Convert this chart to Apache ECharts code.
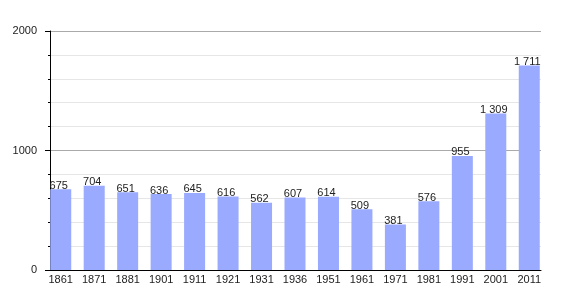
<!DOCTYPE html>
<html><head><meta charset="utf-8">
<script src="https://cdn.jsdelivr.net/npm/echarts@6/dist/echarts.min.js"></script>
<style>html,body{margin:0;padding:0;background:#fff}#c{width:570px;height:300px}</style>
</head><body><div id="c"></div>
<script>
var years = ['1861','1871','1881','1901','1911','1921','1931','1936','1951','1961','1971','1981','1991','2001','2011'];
var population = [675,704,651,636,645,616,562,607,614,509,381,576,955,1309,1711];
var yTicks = [0,1000,2000];

function fmt(v){ return String(v).replace(/\B(?=(\d{3})+(?!\d))/g,' '); }
var FONT = 'Liberation Sans';
var chart = echarts.init(document.getElementById('c'));
chart.setOption({
  animation:false,
  grid:[
    {left:44, right:24, top:31, bottom:30},
    {left:50, right:29, top:31, bottom:30}
  ],
  xAxis:[
    {type:'category', gridIndex:0, data:years, axisLine:{show:false}, axisTick:{show:false},
     axisLabel:{margin:4, fontFamily:FONT, fontSize:11, color:'#222'}},
    {type:'value', gridIndex:1, min:0, max:1, axisLine:{show:true, lineStyle:{color:'#000', width:1}},
     axisTick:{show:false}, axisLabel:{show:false}, splitLine:{show:false}}
  ],
  yAxis:[
    {type:'value', gridIndex:0, min:yTicks[0], max:yTicks[2], show:false},
    {type:'value', gridIndex:1, min:yTicks[0], max:yTicks[2], interval:1000,
     axisLine:{show:true, lineStyle:{color:'#000', width:1}},
     axisTick:{show:true, length:5, lineStyle:{color:'#000'}},
     minorTick:{show:true, splitNumber:5, length:2, lineStyle:{color:'#000'}},
     axisLabel:{margin:13, fontFamily:FONT, fontSize:11, color:'#222', formatter:function(v){return String(v);}},
     splitLine:{show:true, lineStyle:{color:'#aaaaaa', width:1}},
     minorSplitLine:{show:true, lineStyle:{color:'#e6e6e6', width:1}}}
  ],
  series:[{
    type:'bar', xAxisIndex:0, yAxisIndex:0, data:population, barWidth:21,
    itemStyle:{color:'#99aaff'},
    label:{show:true, position:'top', distance:0, offset:[-2,2], fontFamily:FONT, fontSize:11, color:'#222',
      formatter:function(p){return fmt(p.value);}}
  }]
});
</script></body></html>
